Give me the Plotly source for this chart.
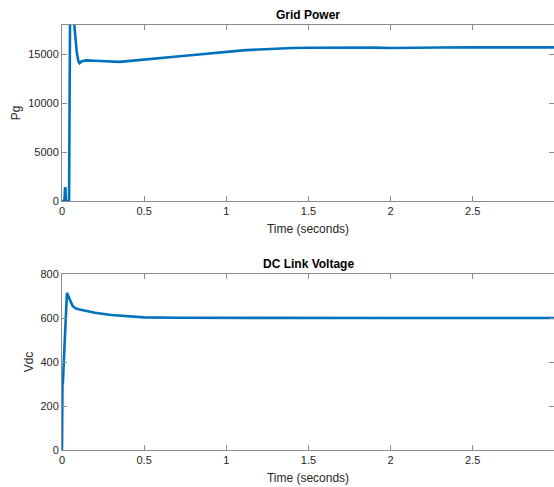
import plotly.graph_objects as go
from plotly.subplots import make_subplots

# Grid power (Pg) vs time
time_pg = [0.0, 0.015, 0.018, 0.021, 0.024, 0.040, 0.043, 0.050, 0.060, 0.075, 0.090, 0.100, 0.107,
           0.120, 0.150, 0.200, 0.250, 0.300, 0.350, 0.400, 0.500, 0.600, 0.700, 0.800, 0.900,
           1.000, 1.100, 1.200, 1.300, 1.400, 1.500, 1.700, 1.900, 2.000, 2.100, 2.300, 2.500,
           2.700, 3.000]
pg_vals = [0, 0, 1300, 1300, 0, 0, 0, 22000, 23000, 18000, 15200, 14300, 14100,
           14300, 14380, 14350, 14320, 14250, 14230, 14300, 14480, 14620, 14780, 14930, 15100,
           15270, 15400, 15500, 15590, 15640, 15680, 15700, 15690, 15650, 15680, 15700, 15710,
           15700, 15710]

# DC link voltage (Vdc) vs time
time_vdc = [0.0, 0.003, 0.005, 0.030, 0.035, 0.050, 0.065, 0.080, 0.100, 0.150, 0.200,
            0.300, 0.400, 0.500, 0.700, 1.000, 1.500, 2.000, 2.500, 3.000]
vdc_vals = [0, 320, 300, 715, 705, 680, 655, 645, 640, 632, 624,
            614, 607, 603, 601, 600, 600, 600, 600, 600]

x_ticks = [0, 0.5, 1, 1.5, 2, 2.5, 3]
x_tick_text = ["0", "0.5", "1", "1.5", "2", "2.5", "3"]
pg_ticks = [0, 5000, 10000, 15000]
pg_tick_text = ["0", "5000", "10000", "15000"]
vdc_ticks = [0, 200, 400, 600, 800]
vdc_tick_text = ["0", "200", "400", "600", "800"]

line_color = "#0072BD"
axis_color = "#8c8c8c"
text_color = "#262626"
font_family = "Liberation Sans, Arial, Helvetica, sans-serif"

fig = make_subplots(rows=2, cols=1)

fig.add_trace(go.Scatter(x=time_pg, y=pg_vals, mode="lines",
                         line=dict(color=line_color, width=2.6), showlegend=False),
              row=1, col=1)
fig.add_trace(go.Scatter(x=time_vdc, y=vdc_vals, mode="lines",
                         line=dict(color=line_color, width=2.6), showlegend=False),
              row=2, col=1)

common_x = dict(range=[0, 2.995], tickvals=x_ticks, ticktext=x_tick_text, automargin=False,
                showgrid=False, zeroline=False, showline=True, linecolor=axis_color,
                linewidth=1, mirror="ticks", ticks="inside", ticklen=5, tickcolor=axis_color,
                tickfont=dict(size=11, color=text_color, family=font_family),
                title=dict(text="Time (seconds)", standoff=8,
                           font=dict(size=12, color=text_color, family=font_family)))
common_y = dict(showgrid=False, zeroline=False, showline=True, linecolor=axis_color, automargin=False,
                linewidth=1, mirror="ticks", ticks="inside", ticklen=5, tickcolor=axis_color,
                tickfont=dict(size=11, color=text_color, family=font_family))

fig.update_xaxes(**common_x, domain=[0, 1], row=1, col=1)
fig.update_xaxes(**common_x, domain=[0, 1], row=2, col=1)
fig.update_yaxes(**common_y, range=[0, 18000], tickvals=pg_ticks, ticktext=pg_tick_text,
                 domain=[0.586, 1.0],
                 title=dict(text="Pg", standoff=4, font=dict(size=12, color=text_color, family=font_family)),
                 row=1, col=1)
fig.update_yaxes(**common_y, range=[0, 800], tickvals=vdc_ticks, ticktext=vdc_tick_text,
                 domain=[0.0, 0.414],
                 title=dict(text="Vdc", standoff=4, font=dict(size=12, color=text_color, family=font_family)),
                 row=2, col=1)

fig.add_annotation(text="<b>Grid Power</b>", xref="paper", yref="paper", x=0.5, y=1.0,
                   yanchor="bottom", yshift=1, showarrow=False,
                   font=dict(size=12, color="#000000", family=font_family))
fig.add_annotation(text="<b>DC Link Voltage</b>", xref="paper", yref="paper", x=0.5, y=0.414,
                   yanchor="bottom", yshift=1, showarrow=False,
                   font=dict(size=12, color="#000000", family=font_family))

fig.update_layout(width=554, height=487, margin=dict(l=62, r=0, t=25, b=37, autoexpand=False),
                  plot_bgcolor="white", paper_bgcolor="white",
                  font=dict(family=font_family, color=text_color))

fig.write_html("out.html", config={"displayModeBar": False},
               post_script="document.body.style.margin='0';document.body.style.overflow='hidden';")
